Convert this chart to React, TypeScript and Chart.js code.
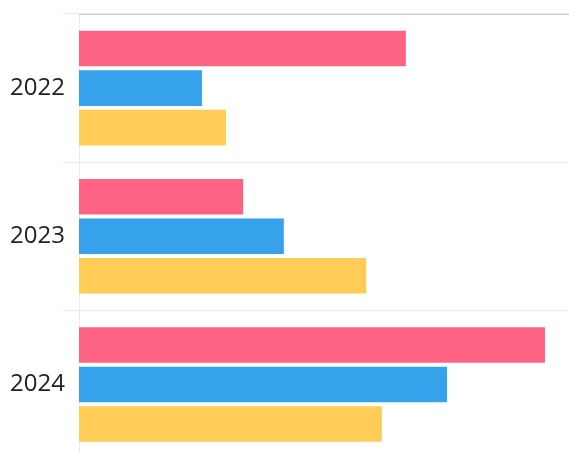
import React, { useEffect, useRef } from "react";
import { Chart, registerables } from "chart.js";

Chart.register(...registerables);

const categories = ["2022", "2023", "2024"];
const seriesPink = [66.7, 33.5, 95.1];
const seriesBlue = [25.1, 41.8, 75.1];
const seriesYellow = [30.0, 58.6, 61.8];
const xMin = 0;
const xMax = 100;

export default function App() {
  const ref = useRef<HTMLCanvasElement | null>(null);

  useEffect(() => {
    if (!ref.current) return;
    const chart = new Chart(ref.current, {
      type: "bar",
      data: {
        labels: categories,
        datasets: [
          { label: "A", data: seriesPink, backgroundColor: "#ff6384", borderWidth: 0 },
          { label: "B", data: seriesBlue, backgroundColor: "#36a2eb", borderWidth: 0 },
          { label: "C", data: seriesYellow, backgroundColor: "#ffcd56", borderWidth: 0 },
        ],
      },
      options: {
        indexAxis: "y",
        animation: false,
        responsive: false,
        maintainAspectRatio: false,
        layout: { padding: 0 },
        plugins: {
          legend: { display: false },
          tooltip: { enabled: false },
        },
        scales: {
          x: {
            position: "top",
            min: xMin,
            max: xMax,
            ticks: { display: false },
            grid: { display: false, drawTicks: false },
            border: { display: true, color: "rgba(0,0,0,0.18)", width: 1 },
            afterFit: (scale: any) => {
              scale.height = 14;
            },
          },
          y: {
            ticks: {
              padding: -2,
              color: "#222",
              font: { family: "'Open Sans', sans-serif", size: 24 },
            },
            grid: {
              color: "rgba(0,0,0,0.08)",
              tickLength: 16,
            },
            border: { display: true, color: "rgba(0,0,0,0.08)" },
            afterFit: (scale: any) => {
              scale.width = 79;
            },
          },
        },
      },
    });
    return () => chart.destroy();
  }, []);

  return (
    <div
      style={{
        position: "fixed",
        left: 0,
        top: 0,
        width: 569,
        height: 453,
        overflow: "hidden",
        background: "#fff",
      }}
    >
      <canvas ref={ref} width={569} height={471} style={{ display: "block" }} />
    </div>
  );
}
